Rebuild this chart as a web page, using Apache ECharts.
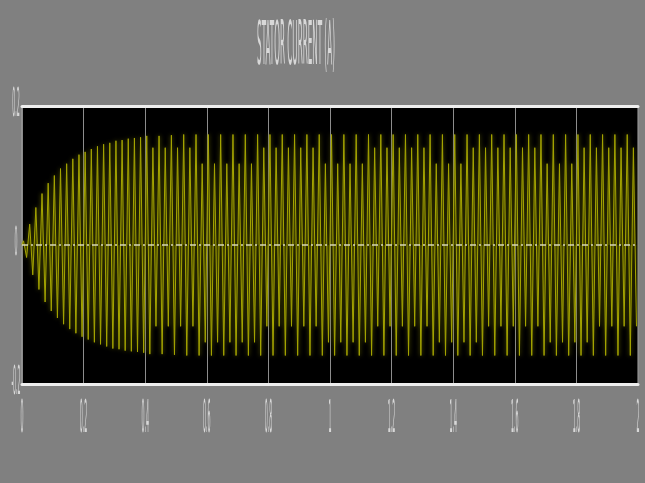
<!DOCTYPE html>
<html>
<head>
<meta charset="utf-8">
<script src="https://cdn.jsdelivr.net/npm/echarts@6/dist/echarts.min.js"></script>
<style>
html, body { margin: 0; padding: 0; background: #808080; }
#show_picture { width: 645px; height: 483px; }
</style>
</head>
<body>
<div id="show_picture"></div>
<script>
const titleText = 'STATOR CURRENT (A)';
const xTicks = [0, 0.2, 0.4, 0.6, 0.8, 1, 1.2, 1.4, 1.6, 1.8, 2];
const xTickLabels = ['0', '0.2', '0.4', '0.6', '0.8', '1', '1.2', '1.4', '1.6', '1.8', '2'];
const yTicks = [0.2, 0, -0.2];
const yTickLabels = ['0.2', '0', '-0.2'];

// 50 Hz supply: one peak every half cycle (0.01 s), first peak at 0.005 s
const halfPeriod = 0.01;
const currentPeaks = [
    0.006, -0.018, 0.030, -0.043, 0.054, -0.064, 0.074, -0.082, 0.089, -0.095,
    0.100, -0.105, 0.110, -0.114, 0.117, -0.121, 0.124, -0.127, 0.130, -0.132,
    0.134, -0.136, 0.138, -0.140, 0.142, -0.143, 0.145, -0.146, 0.147, -0.149,
    0.150, -0.150, 0.151, -0.152, 0.153, -0.153, 0.154, -0.154, 0.155, -0.155,
    0.157, -0.157, 0.140, -0.117, 0.157, -0.157, 0.140, -0.117, 0.158, -0.158,
    0.140, -0.117, 0.159, -0.159, 0.140, -0.117, 0.159, -0.159, 0.117, -0.140,
    0.159, -0.159, 0.117, -0.140, 0.159, -0.159, 0.117, -0.140, 0.159, -0.159,
    0.117, -0.140, 0.159, -0.159, 0.117, -0.140, 0.159, -0.159, 0.140, -0.117,
    0.159, -0.159, 0.140, -0.117, 0.159, -0.159, 0.140, -0.117, 0.159, -0.159,
    0.140, -0.117, 0.159, -0.159, 0.140, -0.117, 0.159, -0.159, 0.117, -0.140,
    0.159, -0.159, 0.117, -0.140, 0.159, -0.159, 0.117, -0.140, 0.159, -0.159,
    0.117, -0.140, 0.159, -0.159, 0.140, -0.117, 0.159, -0.159, 0.140, -0.117,
    0.159, -0.159, 0.140, -0.117, 0.159, -0.159, 0.140, -0.117, 0.159, -0.159,
    0.140, -0.117, 0.159, -0.159, 0.117, -0.140, 0.159, -0.159, 0.117, -0.140,
    0.159, -0.159, 0.117, -0.140, 0.159, -0.159, 0.140, -0.140, 0.159, -0.159,
    0.140, -0.117, 0.159, -0.159, 0.140, -0.117, 0.159, -0.159, 0.140, -0.117,
    0.159, -0.159, 0.140, -0.117, 0.159, -0.159, 0.140, -0.117, 0.159, -0.159,
    0.117, -0.140, 0.159, -0.159, 0.117, -0.140, 0.159, -0.159, 0.117, -0.140,
    0.159, -0.159, 0.140, -0.140, 0.159, -0.159, 0.140, -0.117, 0.159, -0.159,
    0.140, -0.117, 0.159, -0.159, 0.140, -0.117, 0.159, -0.159, 0.140, -0.117
];

let show_picture = document.getElementById('show_picture');
let myChart = echarts.init(show_picture);

let d = [[0, 0]];
currentPeaks.forEach((v, i) => d.push([halfPeriod / 2 + i * halfPeriod, v]));

let option = {
    animation: false,
    backgroundColor: '#808080',
    grid: {
        left: 22, right: 7, top: 106, bottom: 99,
        show: true,
        backgroundColor: '#000',
        borderColor: '#a8a8a8',
        borderWidth: 1
    },
    xAxis: [
        {
            type: 'value', min: 0, max: 2, interval: 0.2,
            axisLine: { show: true, onZero: false, lineStyle: { color: '#eeeeee', width: 3 } },
            axisTick: { show: false },
            axisLabel: { show: false },
            splitLine: { show: true, lineStyle: { color: '#8c8c8c', width: 1 } }
        },
        {
            type: 'value', min: 0, max: 2, interval: 0.2, position: 'top',
            axisLine: { show: true, onZero: false, lineStyle: { color: '#eeeeee', width: 3 } },
            axisTick: { show: false },
            axisLabel: { show: false },
            splitLine: { show: false }
        }
    ],
    yAxis: {
        type: 'value', min: -0.2, max: 0.2, interval: 0.2,
        axisLine: { show: false },
        axisTick: { show: false },
        axisLabel: { show: false },
        splitLine: { show: false }
    },
    series: [
        {
            name: 'Stator current',
            type: 'line',
            data: d,
            showSymbol: false,
            sampling: false,
            lineStyle: {
                color: '#a4a400', width: 1,
                shadowColor: 'rgba(110,110,0,1)', shadowBlur: 4
            },
            areaStyle: { color: 'rgba(85,85,0,0.75)' },
            markLine: {
                silent: true,
                symbol: 'none',
                label: { show: false },
                lineStyle: { color: '#d8d8b8', width: 1.5, type: [6, 3, 2, 3] },
                data: [{ yAxis: 0 }]
            }
        }
    ]
};

option && myChart.setOption(option);

// the screenshot is squeezed sideways, so the texts are tall and narrow
const ctx = document.createElement('canvas').getContext('2d');
function squished(s, x, y, h, charW) {
    let size = h / 0.73;
    ctx.font = size + 'px "DejaVu Sans"';
    let natural = ctx.measureText('0').width;
    return {
        type: 'text', x: x, y: y, silent: true,
        scaleX: charW / natural, scaleY: 1,
        style: {
            text: s, x: 0, y: 0, fill: '#d8d8d8',
            font: size + 'px "DejaVu Sans"',
            align: 'center', verticalAlign: 'middle'
        }
    };
}

let g = [];
g.push(squished(titleText, 296, 48, 44, 4.6));
xTicks.forEach((v, i) => {
    let px = myChart.convertToPixel({ xAxisIndex: 0 }, v);
    g.push(squished(xTickLabels[i], px, 420, 33, 3));
});
yTicks.forEach((v, i) => {
    let py = myChart.convertToPixel({ yAxisIndex: 0 }, v);
    g.push(squished(yTickLabels[i], 16, py, 28, 3));
});
myChart.setOption({ graphic: g });
</script>
</body>
</html>
